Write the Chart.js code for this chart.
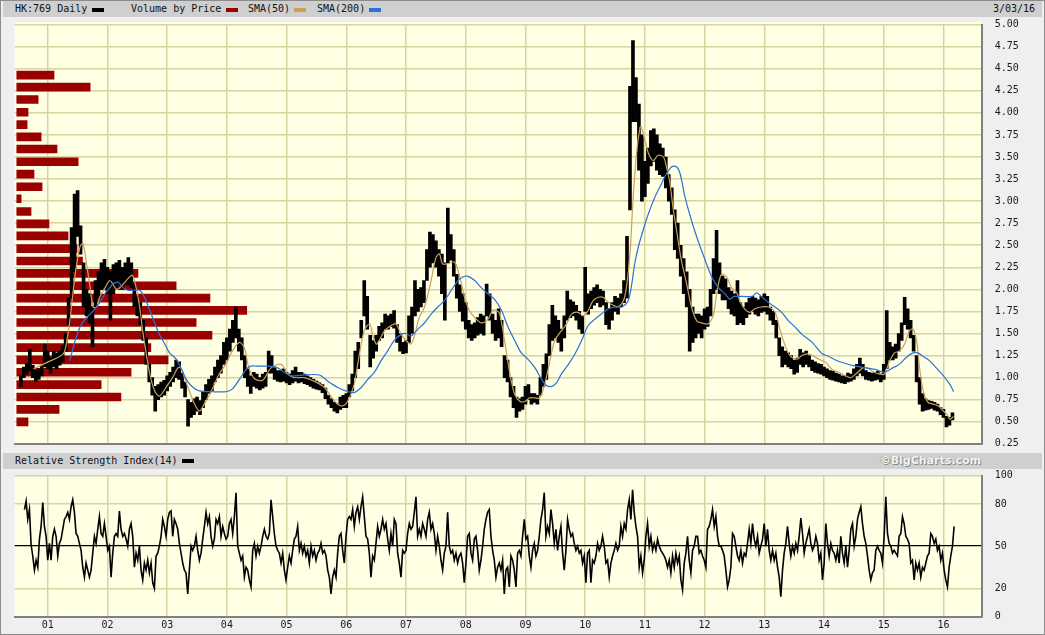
<!DOCTYPE html>
<html><head><meta charset="utf-8">
<script src="https://cdn.jsdelivr.net/npm/chart.js@4.4.1/dist/chart.umd.min.js"></script>
<style>
html,body{margin:0;padding:0;}
body{width:1045px;height:635px;background:#efefef;position:relative;overflow:hidden;font-family:"DejaVu Sans Mono",monospace;font-size:10px;color:#111;}
.abs{position:absolute;}
.bar{position:absolute;left:3px;width:1039px;height:16px;background:#cfcfcf;}
.txt{position:absolute;line-height:12px;white-space:pre;}
.sw{position:absolute;height:4px;width:12px;}
canvas{position:absolute;}
</style></head><body>
<div class="abs" style="left:0;top:0;width:1043px;height:633px;border:1px solid #8c8c8c;"></div>
<div class="bar" style="top:1px;"></div>
<div class="txt" style="left:15px;top:3px;">HK:769 Daily</div>
<div class="sw" style="left:92px;top:8px;background:#000;"></div>
<div class="txt" style="left:131px;top:3px;">Volume by Price</div>
<div class="sw" style="left:226px;top:8px;background:#990000;"></div>
<div class="txt" style="left:248px;top:3px;">SMA(50)</div>
<div class="sw" style="left:294px;top:8px;background:#cfa050;"></div>
<div class="txt" style="left:317px;top:3px;">SMA(200)</div>
<div class="sw" style="left:369px;top:8px;background:#2a72d8;"></div>
<div class="txt" style="left:993px;top:3px;">3/03/16</div>
<canvas id="main" width="1045" height="452" style="left:0;top:0;"></canvas>
<div class="bar" style="top:453px;"></div>
<div class="txt" style="left:15px;top:455px;">Relative Strength Index(14)</div>
<div class="sw" style="left:182px;top:459px;background:#000;"></div>
<div class="txt" style="right:64px;top:454px;line-height:14px;font-family:'DejaVu Sans',sans-serif;font-weight:bold;font-size:11px;color:#f4f4f4;text-shadow:1px 1px 0 #8a8a8a,-1px 0 0 #a8a8a8;">©BigCharts.com</div>
<canvas id="rsi" width="1045" height="166" style="left:0;top:469px;"></canvas>
<script>
// ---------- DATA ----------
const yearTicks = [2001,2002,2003,2004,2005,2006,2007,2008,2009,2010,2011,2012,2013,2014,2015,2016];
const yearLabels = ['01','02','03','04','05','06','07','08','09','10','11','12','13','14','15','16'];
const priceTicks = [0.25,0.5,0.75,1,1.25,1.5,1.75,2,2.25,2.5,2.75,3,3.25,3.5,3.75,4,4.25,4.5,4.75,5];
const rsiTicks = [0,20,50,80,100];

// daily price range sampled every 0.05 year starting 2000.55
const priceStart = 2000.55, priceStep = 0.05;
const priceLow = [
 0.90,1.00,1.04,1.08,1.00,0.96,0.98,1.02,1.12,
 1.10,1.05,1.12,1.10,1.14,1.18,1.30,1.60,1.90,2.20,2.60,2.40,1.80,1.70,1.62,1.35,1.80,1.90,2.00,2.02,
 1.95,1.65,1.95,2.02,2.05,2.00,2.05,2.05,2.02,1.80,1.70,1.60,1.42,1.15,0.95,0.80,0.62,0.75,0.78,0.80,
 0.85,0.90,0.95,1.00,0.98,0.88,0.78,0.45,0.55,0.58,0.62,0.58,0.66,0.75,0.82,0.85,0.95,1.00,1.05,1.15,
 1.20,1.30,1.40,1.45,1.30,1.20,1.00,0.90,0.82,0.90,0.88,0.86,0.88,0.90,1.05,1.05,0.98,0.96,0.95,0.96,
 0.94,0.92,0.94,0.96,0.94,0.95,0.93,0.92,0.90,0.88,0.87,0.86,0.83,0.76,0.70,0.66,0.62,0.60,0.64,0.66,
 0.66,0.78,0.85,1.00,1.10,1.45,1.70,1.55,1.12,1.22,1.30,1.42,1.45,1.55,1.55,1.58,1.56,1.40,1.30,1.27,
 1.28,1.40,1.50,1.70,1.75,1.80,1.85,2.10,2.25,2.30,2.25,2.15,1.95,1.65,2.30,2.33,2.15,1.90,1.75,1.64,
 1.55,1.45,1.42,1.45,1.48,1.50,1.48,1.70,1.65,1.50,1.42,1.45,1.35,1.00,0.95,0.78,0.66,0.55,0.62,0.64,
 0.70,0.75,0.70,0.72,0.70,0.80,0.90,0.98,1.25,1.42,1.45,1.40,1.30,1.45,1.65,1.68,1.70,1.65,1.55,1.50,
 1.75,1.72,1.78,1.82,1.85,1.80,1.82,1.60,1.55,1.65,1.75,1.72,1.80,1.85,1.90,2.90,3.90,3.90,3.35,3.00,
 3.05,3.20,3.40,3.45,3.35,3.30,3.28,3.15,3.00,2.85,2.45,2.35,2.15,1.95,1.80,1.30,1.40,1.45,1.50,1.45,
 1.55,1.58,1.70,1.95,2.00,1.95,1.88,1.88,1.78,1.72,1.70,1.60,1.62,1.60,1.68,1.72,1.75,1.72,1.70,1.74,
 1.75,1.72,1.65,1.60,1.45,1.25,1.12,1.15,1.12,1.10,1.04,1.06,1.15,1.12,1.15,1.12,1.08,1.06,1.05,1.04,
 1.02,1.00,0.98,0.97,0.96,0.95,0.94,0.93,0.95,0.96,0.98,1.02,1.05,1.02,0.98,0.97,0.96,0.97,0.98,0.95,
 0.98,1.10,1.20,1.20,1.22,1.30,1.42,1.60,1.55,1.45,1.30,0.95,0.70,0.62,0.63,0.64,0.65,0.63,0.62,0.58,
 0.55,0.44,0.46,0.52
];
const priceHigh = [
 1.02,1.12,1.16,1.32,1.14,1.08,1.10,1.14,1.38,
 1.30,1.22,1.30,1.28,1.30,1.36,1.50,1.90,2.70,3.08,3.12,2.72,2.30,2.00,1.95,1.80,2.10,2.20,2.30,2.34,
 2.25,2.20,2.28,2.30,2.33,2.25,2.30,2.36,2.30,2.05,1.92,1.85,1.65,1.45,1.15,1.00,0.90,0.92,0.95,0.97,
 1.02,1.06,1.12,1.20,1.18,1.05,0.95,0.75,0.72,0.76,0.78,0.74,0.84,0.92,0.98,1.02,1.12,1.20,1.25,1.40,
 1.45,1.55,1.65,1.80,1.55,1.45,1.25,1.10,1.02,1.06,1.04,1.00,1.04,1.06,1.30,1.25,1.12,1.08,1.08,1.10,
 1.06,1.04,1.08,1.12,1.06,1.06,1.04,1.02,1.00,0.98,0.96,0.94,0.92,0.88,0.80,0.76,0.72,0.70,0.78,0.80,
 0.82,0.92,1.04,1.30,1.40,1.65,2.10,1.92,1.48,1.42,1.48,1.58,1.62,1.72,1.70,1.72,1.76,1.60,1.50,1.40,
 1.42,1.70,1.80,2.10,2.00,2.02,2.10,2.45,2.65,2.62,2.55,2.45,2.40,2.30,2.92,2.62,2.45,2.17,2.05,1.95,
 1.85,1.65,1.60,1.62,1.68,1.72,1.70,2.06,1.95,1.72,1.65,1.78,1.65,1.25,1.20,1.00,0.90,0.78,0.76,0.78,
 0.90,0.92,0.82,0.82,0.80,1.00,1.15,1.27,1.60,1.82,1.70,1.65,1.55,1.70,1.98,1.88,1.86,1.82,1.75,1.70,
 2.25,1.95,1.98,2.02,2.05,2.00,1.98,1.85,1.78,1.85,1.92,1.90,1.95,2.10,2.60,4.30,4.82,4.40,4.10,3.75,
 3.45,3.60,3.80,3.82,3.75,3.65,3.60,3.50,3.30,3.15,2.90,2.75,2.50,2.35,2.20,2.00,1.80,1.72,1.72,1.70,
 1.78,1.80,2.00,2.35,2.67,2.30,2.15,2.12,2.02,1.98,1.95,2.10,1.85,1.80,1.85,1.90,1.92,1.90,1.88,1.92,
 1.95,1.92,1.80,1.75,1.65,1.45,1.35,1.30,1.28,1.25,1.20,1.22,1.32,1.28,1.30,1.25,1.20,1.18,1.16,1.15,
 1.12,1.10,1.08,1.07,1.05,1.04,1.02,1.02,1.05,1.04,1.10,1.15,1.22,1.15,1.08,1.06,1.05,1.06,1.07,1.04,
 1.15,1.76,1.40,1.35,1.38,1.50,1.62,1.91,1.78,1.65,1.48,1.25,1.00,0.82,0.76,0.74,0.73,0.72,0.70,0.66,
 0.64,0.56,0.55,0.60
];

const sma50Dates = [2000.76,2000.98,2001.26,2001.32,2001.37,2001.46,2001.54,2001.59,2001.65,2001.71,2001.76,2001.82,2001.87,2001.96,
 2002.04,2002.09,2002.15,2002.21,2002.29,2002.37,2002.42,2002.48,2002.54,2002.59,2002.65,2002.71,2002.79,2002.87,2002.98,
 2003.09,2003.18,2003.23,2003.29,2003.37,2003.46,2003.54,2003.62,2003.71,2003.79,2003.87,2003.98,
 2004.09,2004.21,2004.29,2004.37,2004.46,2004.60,2004.74,2004.91,
 2005.02,2005.13,2005.30,2005.46,2005.63,2005.74,2005.85,2005.94,
 2006.02,2006.13,2006.22,2006.30,2006.39,2006.44,2006.50,2006.55,2006.64,2006.75,2006.83,2006.92,
 2007.00,2007.08,2007.14,2007.22,2007.31,2007.42,2007.50,2007.56,2007.61,2007.70,2007.81,2007.89,2007.98,
 2008.06,2008.15,2008.26,2008.37,2008.45,2008.52,2008.57,2008.65,2008.74,2008.82,2008.91,2008.99,
 2009.07,2009.16,2009.24,2009.32,2009.41,2009.49,2009.60,2009.69,2009.77,2009.88,2009.97,
 2010.05,2010.13,2010.22,2010.30,2010.39,2010.47,2010.55,2010.64,2010.69,2010.75,2010.80,2010.86,2010.92,2010.94,
 2011.00,2011.06,2011.14,2011.22,2011.31,2011.36,2011.42,2011.47,2011.53,2011.61,2011.70,2011.78,2011.87,2011.95,
 2012.06,2012.15,2012.20,2012.28,2012.37,2012.45,2012.54,2012.59,2012.67,2012.76,2012.84,2012.95,
 2013.07,2013.18,2013.26,2013.35,2013.43,2013.55,2013.63,2013.72,2013.80,2013.91,
 2014.03,2014.14,2014.25,2014.36,2014.45,2014.53,2014.65,2014.73,2014.81,2014.93,
 2015.01,2015.10,2015.18,2015.26,2015.35,2015.43,2015.49,2015.55,2015.60,2015.66,2015.74,2015.83,2015.91,2015.97,
 2016.06,2016.11,2016.17];
const sma50Values = [1.10,1.17,1.27,1.42,1.64,2.17,2.48,2.52,2.29,2.02,1.80,1.80,1.91,2.02,
 2.10,2.06,2.00,2.02,2.08,2.14,2.16,2.02,1.80,1.53,1.27,1.04,0.85,0.79,0.89,
 1.00,1.11,1.11,1.00,0.85,0.70,0.62,0.70,0.81,0.92,1.04,1.15,
 1.30,1.40,1.34,1.11,0.99,0.97,1.11,1.15,
 1.04,1.00,1.00,0.96,0.89,0.79,0.70,0.68,
 0.73,0.92,1.27,1.53,1.61,1.49,1.38,1.42,1.53,1.59,1.61,1.49,
 1.42,1.38,1.47,1.68,1.80,2.10,2.36,2.40,2.29,2.29,2.31,2.17,1.91,
 1.76,1.68,1.62,1.66,1.76,1.76,1.72,1.42,1.04,0.81,0.73,0.73,
 0.77,0.77,0.77,0.92,1.19,1.42,1.53,1.61,1.72,1.74,1.70,
 1.76,1.87,1.91,1.91,1.85,1.82,1.80,1.87,2.02,2.40,3.00,3.54,3.84,3.84,
 3.69,3.54,3.46,3.52,3.50,3.39,3.20,2.93,2.67,2.33,2.06,1.80,1.64,1.62,
 1.61,1.72,1.95,2.17,2.14,2.02,1.96,1.87,1.78,1.74,1.78,1.80,
 1.80,1.74,1.55,1.36,1.25,1.21,1.25,1.27,1.25,1.21,
 1.17,1.09,1.06,1.02,1.00,1.04,1.11,1.11,1.07,1.04,
 1.04,1.19,1.28,1.30,1.38,1.53,1.55,1.42,1.11,0.85,0.72,0.70,0.68,0.64,
 0.58,0.53,0.56];

const sma200Dates = [2001.37,2001.46,2001.54,2001.62,2001.71,2001.79,2001.87,2001.96,
 2002.04,2002.09,2002.18,2002.26,2002.34,2002.43,2002.54,2002.62,2002.71,2002.79,2002.87,2002.96,
 2003.04,2003.15,2003.23,2003.32,2003.43,2003.54,2003.76,2003.98,
 2004.09,2004.21,2004.32,2004.40,2004.51,2004.68,2004.85,2004.96,
 2005.07,2005.30,2005.55,2005.69,2005.85,2005.99,
 2006.13,2006.25,2006.36,2006.47,2006.58,2006.69,2006.80,2006.92,
 2007.00,2007.08,2007.20,2007.31,2007.42,2007.53,2007.64,2007.75,2007.87,2007.95,
 2008.03,2008.15,2008.26,2008.37,2008.48,2008.60,2008.71,2008.82,2008.93,
 2009.04,2009.16,2009.27,2009.35,2009.44,2009.52,2009.60,2009.72,2009.83,2009.94,
 2010.05,2010.16,2010.27,2010.39,2010.50,2010.61,2010.72,2010.78,2010.83,2010.89,2010.97,
 2011.06,2011.17,2011.28,2011.36,2011.45,2011.53,2011.59,2011.67,2011.78,2011.89,
 2012.01,2012.12,2012.23,2012.34,2012.42,2012.50,2012.79,2012.87,2012.95,
 2013.07,2013.18,2013.29,2013.41,2013.52,2013.63,2013.80,2013.97,
 2014.08,2014.19,2014.36,2014.53,2014.70,2014.87,
 2015.01,2015.15,2015.26,2015.38,2015.49,2015.57,2015.66,2015.77,2015.88,
 2016.00,2016.11,2016.17];
const sma200Values = [1.19,1.42,1.57,1.66,1.72,1.78,1.85,1.95,
 2.02,2.06,2.08,2.02,1.99,1.99,1.99,1.91,1.76,1.62,1.49,1.38,
 1.28,1.21,1.11,0.98,0.89,0.85,0.84,0.84,
 0.87,0.98,1.09,1.13,1.13,1.13,1.11,1.06,
 1.02,1.03,1.03,0.96,0.89,0.85,
 0.83,0.89,0.98,1.06,1.19,1.30,1.42,1.49,
 1.50,1.47,1.55,1.62,1.72,1.80,1.87,1.98,2.10,2.14,
 2.15,2.10,2.02,1.95,1.89,1.76,1.57,1.42,1.28,
 1.21,1.11,0.98,0.91,0.90,0.94,1.04,1.15,1.27,1.42,
 1.59,1.66,1.72,1.78,1.80,1.80,1.87,2.06,2.29,2.48,2.67,
 2.86,3.05,3.20,3.31,3.39,3.39,3.31,3.05,2.78,2.55,
 2.33,2.14,2.02,1.95,1.89,1.92,1.92,1.96,1.92,
 1.85,1.80,1.74,1.64,1.57,1.49,1.40,1.27,
 1.24,1.20,1.16,1.13,1.11,1.09,
 1.06,1.11,1.15,1.23,1.28,1.28,1.24,1.19,1.11,
 1.02,0.92,0.84];

// volume by price: price level (bar centre) and relative volume
const vbpLevels = [4.383,4.246,4.106,3.962,3.822,3.682,3.545,3.401,3.261,3.117,2.981,2.837,2.697,2.561,2.417,2.276,2.136,1.996,1.856,1.716,1.579,1.435,1.295,1.155,1.015,0.875,0.735,0.595,0.454];
const vbpVolume = [16.2,31.9,9.3,4.9,4.5,10.6,17.5,26.7,7.5,11.0,1.9,6.2,14.0,22.3,26.2,28.6,52.7,69.3,84.0,100,78.0,84.9,58.3,65.8,49.7,36.7,45.3,18.4,4.9];

// RSI(14), sampled every 0.0279 year starting 2000.61
const rsiStart = 2000.61, rsiStep = 0.0279;
const rsiValues = [
 76,82,69,76,51,43,33,40,35,55,64,81,64,57,40,52,40,57,62,57,
 43,52,55,62,69,71,74,69,78,83,74,59,57,52,47,35,28,38,33,28,
 33,45,57,52,62,71,59,57,66,57,47,50,28,45,57,59,57,75,62,57,
 59,55,50,62,66,57,35,45,40,50,33,26,38,33,40,31,38,24,20,43,
 45,50,57,69,64,57,69,74,75,57,69,66,62,52,45,38,33,31,16,33,
 50,47,50,57,47,40,45,55,64,74,66,71,57,50,55,69,66,71,57,64,
 59,55,57,66,69,59,71,88,50,45,40,43,28,35,33,26,21,47,52,43,
 50,45,50,57,62,57,55,59,83,71,59,50,47,45,38,45,33,26,35,43,
 38,47,55,57,64,47,52,45,50,43,47,38,50,43,47,40,45,47,52,45,
 47,43,33,28,16,28,33,28,45,57,59,47,38,57,69,71,69,76,64,74,
 78,69,78,85,71,57,55,45,28,43,40,52,64,57,62,69,62,66,55,47,
 59,50,69,66,45,38,28,47,45,47,59,66,62,64,74,85,57,62,57,66,
 62,57,69,74,62,66,59,47,57,50,40,33,45,50,74,50,45,47,40,45,
 38,43,45,38,24,38,57,59,45,40,55,57,47,33,40,50,62,69,74,76,
 57,47,40,28,35,
 38,33,40,16,33,35,21,43,40,33,21,45,47,43,57,69,55,57,43,35,
 47,52,43,47,57,69,76,88,57,64,59,76,66,52,62,47,57,64,45,33,
 47,69,62,57,59,52,47,50,45,47,38,43,24,45,47,24,40,38,43,52,
 47,50,57,50,38,40,28,38,43,47,52,47,50,64,57,66,62,76,83,69,
 90,74,64,57,35,43,31,40,57,66,50,57,47,52,47,55,50,47,45,43,
 40,35,40,31,43,35,45,38,43,26,19,38,45,57,40,31,47,50,57,57,
 45,47,43,40,35,62,64,69,76,64,71,57,50,50,47,43,33,21,26,35,
 59,57,50,43,40,47,38,45,43,52,62,52,66,55,50,57,45,50,55,66,
 50,62,47,40,47,40,45,35,28,14,33,45,52,64,52,43,50,45,52,47,
 57,70,59,45,52,57,62,52,47,50,57,52,40,45,26,38,66,52,43,52,
 47,45,40,47,38,57,45,38,50,35,47,62,66,50,57,69,74,78,66,57,
 52,43,33,26,31,33,47,50,47,45,38,57,85,59,52,50,45,47,45,43,
 57,59,71,66,57,55,52,38,40,26,38,33,38,28,35,33,38,43,45,59,
 57,52,55,47,50,40,45,33,26,21,35,43,50,64
];

// ---------- STYLE / LAYOUT ----------
const X_MIN = 2000.447, X_MAX = 2016.64;
const GRID = '#d8d4a2';
const PLOT_BG = '#ffffe4';
const EDGE = '#808080';
Chart.defaults.font.family = "'DejaVu Sans Mono', monospace";
Chart.defaults.font.size = 10;
Chart.defaults.color = '#1a1a1a';

const plotBg = {
  id: 'plotBg',
  beforeDraw(chart, args, opts) {
    const {ctx, chartArea: a} = chart;
    const ext = (opts && opts.extendTop) || 0;
    ctx.save();
    ctx.fillStyle = PLOT_BG;
    ctx.fillRect(a.left, a.top - ext, a.right - a.left, a.bottom - a.top + ext);
    ctx.restore();
  }
};

const setTicks = (arr) => (s) => { s.ticks = arr.map(v => ({value: v})); };
const rightAxisGrid = (colorFn, widthFn) => ({color: colorFn, lineWidth: widthFn, drawTicks: true, tickLength: 13, tickColor: 'rgba(0,0,0,0)', offset: false});

new Chart(document.getElementById('main'), {
  data: {
    datasets: [
      {
        type: 'bar', label: 'Volume by Price', indexAxis: 'y', xAxisID: 'xv', yAxisID: 'y',
        data: vbpLevels.map((p, i) => ({x: vbpVolume[i], y: p})),
        backgroundColor: '#990000', barThickness: 8, order: 5
      },
      {
        type: 'bar', label: 'HK:769 Daily', xAxisID: 'x', yAxisID: 'y', grouped: false,
        data: priceLow.map((lo, i) => ({x: priceStart + i * priceStep, y: [lo, priceHigh[i]]})),
        backgroundColor: '#000', categoryPercentage: 1, barPercentage: 1, order: 3
      },
      {
        type: 'line', label: 'SMA(50)', xAxisID: 'x', yAxisID: 'y',
        data: sma50Dates.map((d, i) => ({x: d, y: sma50Values[i]})),
        borderColor: '#c9a05a', borderWidth: 1.2, pointRadius: 0, tension: 0.3, order: 2
      },
      {
        type: 'line', label: 'SMA(200)', xAxisID: 'x', yAxisID: 'y',
        data: sma200Dates.map((d, i) => ({x: d, y: sma200Values[i]})),
        borderColor: '#2a72d8', borderWidth: 1.2, pointRadius: 0, tension: 0.3, order: 1
      }
    ]
  },
  options: {
    responsive: false, animation: false,
    layout: {padding: {left: 14.7, top: 24.6, right: 0, bottom: 8.2}},
    plugins: {legend: {display: false}, tooltip: {enabled: false}, plotBg: {extendTop: 2.5}},
    scales: {
      x: {
        type: 'linear', min: X_MIN, max: X_MAX, offset: false,
        afterBuildTicks: setTicks(yearTicks),
        ticks: {display: false},
        grid: {color: GRID, lineWidth: 1.5, drawTicks: false, offset: false},
        border: {display: true, color: EDGE, width: 2},
        afterFit: s => { s.height = 0; }
      },
      xv: {axis: 'x', type: 'linear', display: false, offset: false, min: -0.9, max: 419.6},
      y: {
        type: 'linear', position: 'right', min: 0.25, max: 5, offset: false,
        afterBuildTicks: setTicks(priceTicks),
        ticks: {callback: v => Number(v).toFixed(2), padding: 0},
        grid: rightAxisGrid(GRID, 1.5),
        border: {display: true, color: EDGE, width: 2},
        afterFit: s => { s.width = 63.3; }
      }
    }
  },
  plugins: [plotBg]
});

new Chart(document.getElementById('rsi'), {
  type: 'line',
  data: {
    datasets: [{
      label: 'Relative Strength Index(14)',
      data: rsiValues.map((v, i) => ({x: rsiStart + i * rsiStep, y: v})),
      borderColor: '#000', borderWidth: 1.6, pointRadius: 0, tension: 0
    }]
  },
  options: {
    responsive: false, animation: false,
    layout: {padding: {left: 14.7, top: 6.8, right: 0, bottom: 0}},
    plugins: {legend: {display: false}, tooltip: {enabled: false}},
    scales: {
      x: {
        type: 'linear', min: X_MIN, max: X_MAX, offset: false,
        afterBuildTicks: setTicks(yearTicks),
        ticks: {callback: v => yearLabels[yearTicks.indexOf(v)], padding: 3, maxRotation: 0, autoSkip: false},
        grid: {color: GRID, lineWidth: 1.5, drawTicks: false, offset: false},
        border: {display: true, color: EDGE, width: 2},
        afterFit: s => { s.height = 18.5; }
      },
      y: {
        type: 'linear', position: 'right', min: 0, max: 100, offset: false,
        afterBuildTicks: setTicks(rsiTicks),
        ticks: {padding: 0},
        grid: rightAxisGrid(
          c => c.tick && c.tick.value === 50 ? '#000' : GRID,
          c => c.tick && c.tick.value === 50 ? 1.3 : 1.5
        ),
        border: {display: true, color: EDGE, width: 2},
        afterFit: s => { s.width = 63.3; }
      }
    }
  },
  plugins: [plotBg]
});
</script>
</body></html>
